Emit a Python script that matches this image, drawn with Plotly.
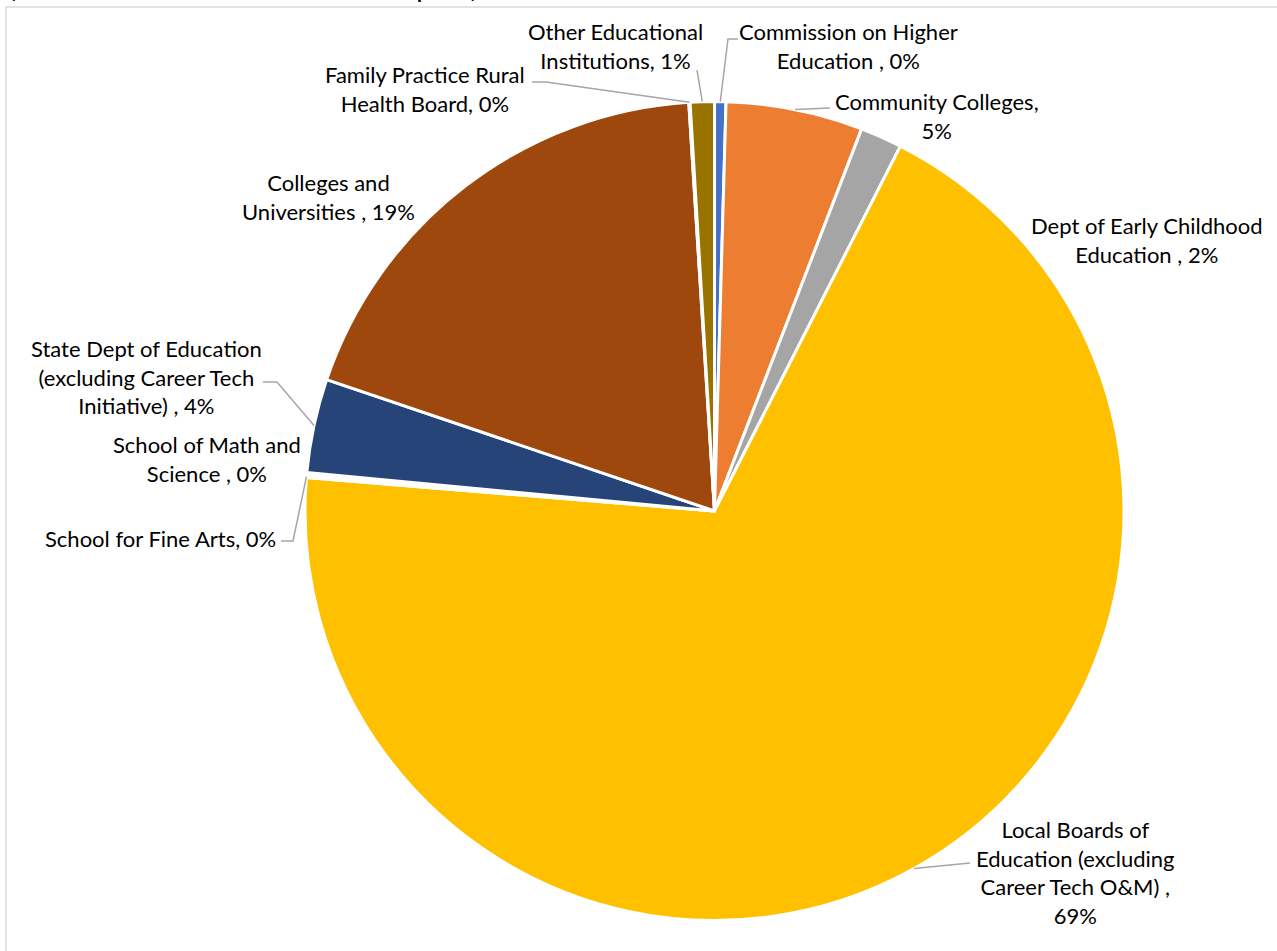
import math
import plotly.graph_objects as go

W, H = 1277, 951

# ---- data (clockwise from 12 o'clock) ----
categories = [
    "Commission on Higher Education",
    "Community Colleges",
    "Dept of Early Childhood Education",
    "Local Boards of Education (excluding Career Tech O&M)",
    "School for Fine Arts",
    "School of Math and Science",
    "State Dept of Education (excluding Career Tech Initiative)",
    "Colleges and Universities",
    "Family Practice Rural Health Board",
    "Other Educational Institutions",
]
values = [0.45, 5.4, 1.65, 68.8, 0.08, 0.12, 3.7, 18.8, 0.05, 0.95]
colors = ["#4472C4", "#ED7D31", "#A5A5A5", "#FFC000", "#5B9BD5",
          "#70AD47", "#264478", "#9E480E", "#636363", "#997300"]
label_texts = [
    "Commission on Higher<br>Education , 0%",
    "Community Colleges,<br>5%",
    "Dept of Early Childhood<br>Education , 2%",
    "Local Boards of<br>Education (excluding<br>Career Tech O&M) ,<br>69%",
    "School for Fine Arts, 0%",
    "School of Math and<br>Science , 0%",
    "State Dept of Education<br>(excluding Career Tech<br>Initiative) , 4%",
    "Colleges and<br>Universities , 19%",
    "Family Practice Rural<br>Health Board, 0%",
    "Other Educational<br>Institutions, 1%",
]

# ---- layout constants (pixels) ----
CX, CY, R = 714.5, 511.0, 409.5
label_pos = [  # (x, y, xanchor)
    (848, 46, "center"), (937, 116, "center"), (1147, 240, "center"),
    (1075, 872, "center"), (278, 538, "right"), (207, 459, "center"),
    (146, 377, "center"), (328, 197, "center"), (425, 89, "center"),
    (615, 46, "center"),
]
leader_start = {  # polyline points from label toward slice
    0: [(738, 39), (728, 39)],
    1: [(830, 108)],
    3: [(970, 863)],
    4: [(281, 541), (293, 541)],
    6: [(263, 382), (277, 382)],
    8: [(532, 82), (546, 82)],
    9: [(697, 70)],
}


def px(x):
    return x / W


def py(y):
    return 1 - y / H


fig = go.Figure(go.Pie(
    labels=categories, values=values, sort=False, direction="clockwise",
    rotation=0, textinfo="none", hoverinfo="label+percent",
    marker=dict(colors=colors, line=dict(color="white", width=3)),
    domain=dict(x=[px(CX - R), px(CX + R)], y=[py(CY + R), py(CY - R)]),
    showlegend=False,
))

FONT = dict(family="Lato, Carlito, 'Open Sans', sans-serif", size=22, color="#000000")

annotations = []
for txt, (x, y, xa) in zip(label_texts, label_pos):
    annotations.append(dict(
        x=px(x), y=py(y), xref="paper", yref="paper", text=txt,
        showarrow=False, xanchor=xa, yanchor="middle", align="center",
        font=FONT,
    ))

# title (cut off at top of the frame, as in the reference)
annotations.append(dict(
    x=px(8), y=1, xref="paper", yref="paper", xanchor="left", yanchor="bottom",
    yshift=-4, showarrow=False,
    text="<b>(Share of Total Education Distributions to Recipients)</b>",
    font=dict(family="Lato, sans-serif", size=20, color="#000000"),
))

shapes = [dict(type="rect", xref="paper", yref="paper",
               x0=px(6), y0=py(H + 10), x1=px(W + 10), y1=py(7),
               line=dict(color="#D9D9D9", width=1.5), fillcolor="rgba(0,0,0,0)",
               layer="below")]

total = sum(values)
cum = 0.0
mids = []
for v in values:
    mids.append((cum + v / 2) / total * 360)
    cum += v

for i, pts in leader_start.items():
    ang = math.radians(mids[i])
    ex, ey = CX + R * math.sin(ang), CY - R * math.cos(ang)
    allpts = pts + [(ex, ey)]
    path = "M " + " L ".join(f"{px(a):.5f},{py(b):.5f}" for a, b in allpts)
    shapes.append(dict(type="path", xref="paper", yref="paper", path=path,
                       line=dict(color="#A6A6A6", width=1.5)))

fig.update_layout(
    width=W, height=H, margin=dict(l=0, r=0, t=0, b=0),
    paper_bgcolor="white", plot_bgcolor="white",
    annotations=annotations, shapes=shapes,
)

fig.write_html("out.html")
